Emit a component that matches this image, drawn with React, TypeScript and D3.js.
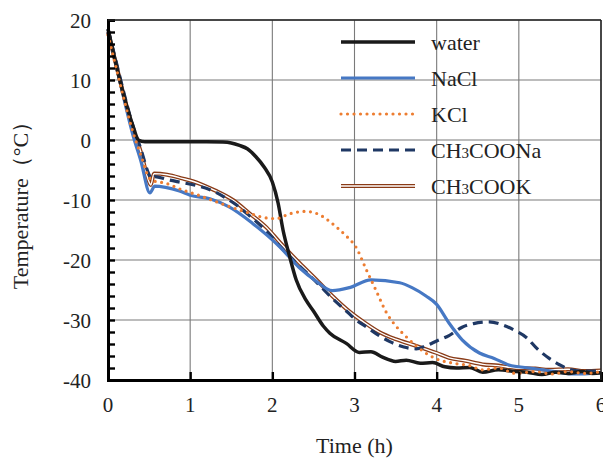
import React, { useEffect, useRef } from 'react';
import * as d3 from 'd3';

// time (h) / temperature (°C)
const waterT = [0, 0.05, 0.1, 0.2, 0.3, 0.37, 0.45, 0.8, 1.2, 1.4, 1.5, 1.6, 1.7, 1.8, 1.9, 2.0, 2.07, 2.13, 2.21, 2.29, 2.41, 2.5, 2.62, 2.7, 2.9, 3.06, 3.2, 3.34, 3.5, 3.63, 3.8, 3.95, 4.1, 4.24, 4.4, 4.56, 4.75, 4.96, 5.1, 5.28, 5.45, 5.6, 5.77, 5.9, 6.0];
const waterV = [18.5, 15.5, 12.5, 7, 2.5, 0, -0.3, -0.3, -0.3, -0.35, -0.5, -0.9, -1.5, -2.8, -4.5, -7, -10.5, -15, -19.4, -23.3, -26.7, -28.5, -31, -32.2, -33.9, -35.4, -35.3, -36.2, -36.9, -36.7, -37.2, -37.1, -37.8, -38, -37.9, -38.7, -38.3, -38.6, -38.7, -39.1, -38.7, -38.9, -38.6, -38.9, -38.8];

const naclT = [0, 0.1, 0.2, 0.3, 0.4, 0.51, 0.57, 0.7, 0.87, 1.0, 1.24, 1.48, 1.76, 2.09, 2.33, 2.53, 2.73, 2.94, 3.2, 3.55, 3.7, 3.87, 4.0, 4.15, 4.31, 4.52, 4.7, 4.88, 5.13, 5.4, 5.65, 6.0];
const naclV = [18, 12.5, 6.5, 1, -3.5, -8.8, -7.7, -7.9, -8.5, -9.2, -9.8, -11.2, -13.9, -17.8, -21.3, -23.5, -25.1, -24.6, -23.3, -23.8, -24.6, -26, -27.4, -30.5, -33.3, -35.5, -36.4, -37.5, -38, -38.5, -39, -38.8];

const kclT = [0, 0.1, 0.2, 0.3, 0.4, 0.5, 0.55, 0.7, 0.9, 1.1, 1.3, 1.5, 1.72, 1.93, 2.05, 2.21, 2.4, 2.55, 2.66, 2.78, 2.9, 3.02, 3.14, 3.26, 3.39, 3.51, 3.63, 3.75, 3.9, 4.0, 4.2, 4.4, 4.56, 4.75, 4.96, 5.2, 5.4, 5.6, 5.8, 6.0];
const kclV = [17.5, 12, 6.5, 1.5, -2.5, -6.3, -6.8, -7.2, -8.3, -9.2, -10.2, -11.2, -12.2, -13, -13.1, -12.3, -11.9, -12.3, -13.2, -14.5, -16, -17.9, -21.5, -25, -28.8, -31.1, -32.8, -34.3, -35.8, -36.5, -37.2, -37.6, -38.3, -38, -38.9, -38.6, -39, -38.6, -38.9, -38.6];

const naAcT = [0, 0.1, 0.2, 0.3, 0.4, 0.5, 0.53, 0.57, 0.72, 0.9, 1.08, 1.28, 1.45, 1.56, 1.72, 1.93, 2.1, 2.33, 2.53, 2.73, 2.9, 3.02, 3.14, 3.3, 3.43, 3.6, 3.75, 3.87, 4.0, 4.15, 4.31, 4.45, 4.64, 4.8, 4.96, 5.1, 5.21, 5.37, 5.5, 5.61, 5.75, 5.9, 6.0];
const naAcV = [18.5, 13, 7.5, 2.5, -1.5, -5.8, -6.5, -6.1, -6.6, -7.1, -7.6, -8.5, -9.8, -10.8, -12.6, -15.2, -17.8, -21, -23.6, -26.4, -28.5, -30, -31.1, -32.6, -33.6, -34.5, -34.8, -34.3, -33.5, -32.6, -31.2, -30.6, -30.3, -30.8, -31.8, -33, -34.6, -36.4, -37.5, -38.2, -38.5, -38.5, -38.6];

const kAcT = [0, 0.1, 0.2, 0.3, 0.4, 0.5, 0.52, 0.56, 0.72, 0.9, 1.12, 1.3, 1.52, 1.72, 1.93, 2.1, 2.33, 2.53, 2.73, 2.94, 3.14, 3.3, 3.5, 3.75, 4.0, 4.15, 4.35, 4.56, 4.75, 4.96, 5.2, 5.37, 5.6, 5.8, 6.0];
const kAcV = [18, 12.5, 7, 2, -2, -7, -7.5, -5.6, -5.8, -6.4, -7.3, -8.4, -10, -12.2, -14.6, -17.2, -20.5, -23.2, -26, -28.6, -30.6, -32, -33.2, -34.3, -35.5, -36.3, -36.8, -37.4, -37.6, -38, -38.1, -38.3, -38.2, -38.5, -38.4];

const xTicks = [0, 1, 2, 3, 4, 5, 6];
const yTicks = [20, 10, 0, -10, -20, -30, -40];

const W = 603, H = 461;
const margin = { top: 20, right: 1, bottom: 81, left: 108 };

const series = [
  { key: 'CH3COOK', t: kAcT, v: kAcV },
  { key: 'CH3COONa', t: naAcT, v: naAcV },
  { key: 'NaCl', t: naclT, v: naclV },
  { key: 'water', t: waterT, v: waterV },
  { key: 'KCl', t: kclT, v: kclV },
];
const legendOrder = ['water', 'NaCl', 'KCl', 'CH3COONa', 'CH3COOK'];

function styleLine(sel: any, key: string)
{
  if (key === 'water') sel.attr('stroke', '#1a1a1a').attr('stroke-width', 3.5);
  else if (key === 'NaCl') sel.attr('stroke', '#4678c4').attr('stroke-width', 3.2);
  else if (key === 'KCl') sel.attr('stroke', '#ed7d31').attr('stroke-width', 3.2).attr('stroke-dasharray', '0 6.5').attr('stroke-linecap', 'round');
  else if (key === 'CH3COONa') sel.attr('stroke', '#1f3864').attr('stroke-width', 3.2).attr('stroke-dasharray', '10 6');
  else sel.attr('stroke', '#8a3b17').attr('stroke-width', 4);
}

export default function App()
{
  const ref = useRef<SVGSVGElement>(null);

  useEffect(() =>
  {
    const svg = d3.select(ref.current);
    svg.selectAll('*').remove();

    const iw = W - margin.left - margin.right;
    const ih = H - margin.top - margin.bottom;

    const x = d3.scaleLinear().domain([0, 6]).range([margin.left, margin.left + iw - 1]);
    const y = d3.scaleLinear().domain([-40, 20]).range([margin.top + ih, margin.top]);

    const font = "'Liberation Serif', 'Times New Roman', serif";

    // - grid
    const grid = svg.append('g').attr('stroke', '#7a7a7a').attr('stroke-width', 1.1);
    xTicks.slice(1).forEach(t =>
      grid.append('line').attr('x1', x(t)).attr('x2', x(t)).attr('y1', y(20)).attr('y2', y(-40)));
    yTicks.slice(0, -1).forEach(v =>
      grid.append('line').attr('x1', x(0)).attr('x2', x(6)).attr('y1', y(v)).attr('y2', y(v)));

    // - series
    const line = d3.line<[number, number]>().x(d => x(d[0])).y(d => y(d[1])).curve(d3.curveMonotoneX);
    series.forEach(s =>
    {
      const pts = s.t.map((t, i) => [t, s.v[i]] as [number, number]);
      const p = svg.append('path').attr('d', line(pts)).attr('fill', 'none').attr('stroke-linejoin', 'round');
      styleLine(p, s.key);
      if (s.key === 'CH3COOK')
        svg.append('path').attr('d', line(pts)).attr('fill', 'none').attr('stroke', '#fff').attr('stroke-width', 1.4);
    });

    // - axes
    const yAxis = svg.append('g').attr('transform', `translate(${x(0)},0)`)
      .call(d3.axisRight(y).tickValues(d3.range(-40, 21, 2)).tickSize(7).tickFormat(() => ''));
    yAxis.select('.domain').attr('stroke-width', 3);
    yAxis.selectAll('.tick line').attr('stroke-width', 2.4);

    const xAxis = svg.append('g').attr('transform', `translate(0,${y(-40)})`)
      .call(d3.axisTop(x).tickValues(xTicks).tickSize(8).tickFormat(() => ''));
    xAxis.select('.domain').attr('stroke-width', 3);
    xAxis.selectAll('.tick line').attr('stroke-width', 2.4);

    svg.append('line').attr('x1', x(0)).attr('x2', x(6)).attr('y1', y(20)).attr('y2', y(20)).attr('stroke', '#222').attr('stroke-width', 1.5);
    svg.append('line').attr('x1', x(6)).attr('x2', x(6)).attr('y1', y(20)).attr('y2', y(-40)).attr('stroke', '#222').attr('stroke-width', 1.5);

    // - tick labels
    svg.append('g').selectAll('text').data(yTicks).join('text')
      .attr('x', 91).attr('y', d => y(d) + 8).attr('text-anchor', 'end')
      .attr('font-family', font).attr('font-size', 21).attr('fill', '#222').text(d => d);
    svg.append('g').selectAll('text').data(xTicks).join('text')
      .attr('x', d => x(d)).attr('y', y(-40) + 32).attr('text-anchor', 'middle')
      .attr('font-family', font).attr('font-size', 21).attr('fill', '#222').text(d => d);

    // - axis titles
    svg.append('text').attr('x', x(3)).attr('y', 453).attr('text-anchor', 'middle')
      .attr('font-family', font).attr('font-size', 22).attr('fill', '#222').text('Time (h)');
    svg.append('text').attr('transform', `translate(28,${y(-10)}) rotate(-90)`).attr('text-anchor', 'middle')
      .attr('font-family', font).attr('font-size', 22).attr('fill', '#222').text('Temperature（°C）');

    // - legend
    const lg = svg.append('g');
    legendOrder.forEach((key, i) =>
    {
      const ly = 42 + i * 36;
      const l = lg.append('line').attr('x1', 341).attr('x2', 415).attr('y1', ly).attr('y2', ly);
      styleLine(l, key);
      if (key === 'CH3COOK')
        lg.append('line').attr('x1', 341).attr('x2', 415).attr('y1', ly).attr('y2', ly).attr('stroke', '#fff').attr('stroke-width', 1.4);
      const tx = lg.append('text').attr('x', 431).attr('y', ly + 8)
        .attr('font-family', font).attr('font-size', 22).attr('fill', '#222');
      if (key.startsWith('CH3'))
      {
        tx.append('tspan').text('CH');
        tx.append('tspan').attr('font-size', 15).text('3');
        tx.append('tspan').text(key.slice(3));
      }
      else tx.text(key);
    });
  }, []);

  return (
    <svg ref={ref} width={W} height={H} style={{ position: 'absolute', left: 0, top: 0, background: '#fff' }} />
  );
}
